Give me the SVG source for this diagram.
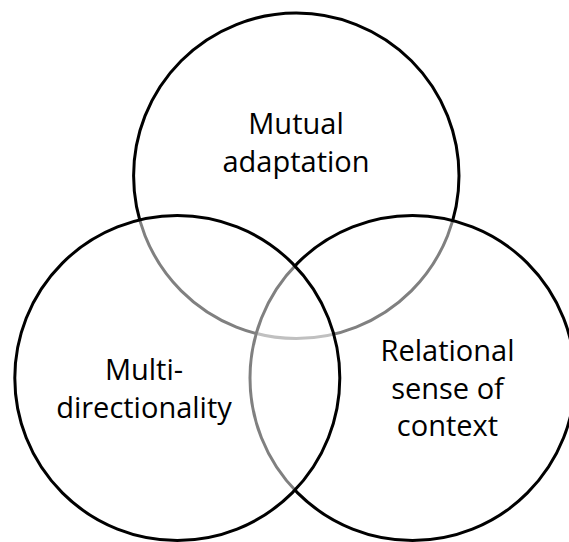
<svg xmlns="http://www.w3.org/2000/svg" width="569" height="542" viewBox="0 0 569 542">
<style>
.c{fill:#ffffff;fill-opacity:0.5;stroke:#000;stroke-width:3}
.t{font-family:"Open Sans","Noto Sans","Liberation Sans",sans-serif;font-size:29px;fill:#000;text-anchor:middle}
</style>
<rect width="569" height="542" fill="#fff"/>
<g id="top">
<circle class="c" cx="296.3" cy="175.8" r="162.7"/>
</g>
<g id="right">
<circle class="c" cx="412.5" cy="378" r="162.5"/>
</g>
<g id="left">
<circle class="c" cx="177.3" cy="378" r="162.5"/>
</g>
<g id="labels">
<g id="label-top">
<text class="t" x="296" y="134">Mutual</text>
<text class="t" x="296" y="171.7">adaptation</text>
</g>
<g id="label-left">
<text class="t" x="144" y="380">Multi-</text>
<text class="t" x="144" y="417.5">directionality</text>
</g>
<g id="label-right">
<text class="t" x="447.5" y="361">Relational</text>
<text class="t" x="447.5" y="398.5">sense of</text>
<text class="t" x="447.5" y="436">context</text>
</g>
</g>
<g id="connectors"/>
</svg>
